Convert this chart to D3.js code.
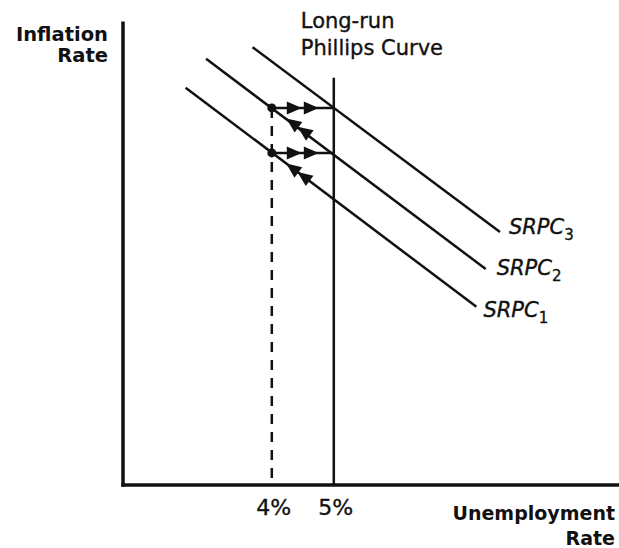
<!DOCTYPE html>
<html lang="en">
    <head>
        <title>Phillips Curve</title>
        <style>
            body { margin: 0; background: #fff; }
            svg { display: block; }
            text { font-family: "DejaVu Sans", sans-serif; fill: #111; }
            .heavy { stroke: #111; stroke-width: 0.35; }
        </style>
    </head>
    <body>
        <script src="https://d3js.org/d3.v7.min.js"></script>
        <svg id="chart"></svg>
        <script>
            const width = 619;
            const height = 548;

            // unemployment (%) on x, inflation on y
            const tickValues = [4, 5];
            const tickLabels = ["4%", "5%"];
            const naturalRate = 5;
            const actualRate = 4;
            const lrpcTop = 9.05;
            // inflation where each SRPC crosses the natural rate / sits at 4%
            const inflationLevels = [6.36, 7.38, 8.38];

            const srpcNames = ["SRPC", "SRPC", "SRPC"];
            const srpcSubs = ["1", "2", "3"];
            const srpcStart = [[2.61, 8.83], [2.94, 9.47], [3.69, 9.73]];
            const srpcEnd = [[7.30, 3.96], [7.45, 4.80], [7.68, 5.62]];

            const x = d3.scaleLinear().domain([1.6, 9.6]).range([123, 619]);
            const y = d3.scaleLinear().domain([0, 10.3]).range([485, 21.5]);

            const svg = d3.select("#chart")
                .attr("width", width)
                .attr("height", height)

            // axes
            svg.append("line")
                .attr("x1", x(1.6)).attr("x2", x(1.6))
                .attr("y1", y(10.3)).attr("y2", y(0) + 1.75)
                .attr("stroke", "#111").attr("stroke-width", 3.5)
            svg.append("line")
                .attr("x1", x(1.6) - 1.75).attr("x2", x(9.6))
                .attr("y1", y(0)).attr("y2", y(0))
                .attr("stroke", "#111").attr("stroke-width", 3.5)

            svg.selectAll(".tick-label")
                .data(tickValues)
                .enter()
                .append("text")
                .attr("class", "tick-label heavy")
                .attr("x", d => x(d) + 2)
                .attr("y", y(0) + 30)
                .attr("text-anchor", "middle")
                .attr("font-size", 22)
                .text((d, i) => tickLabels[i])

            // dashed line at 4%
            svg.append("line")
                .attr("x1", x(actualRate)).attr("x2", x(actualRate))
                .attr("y1", y(inflationLevels[2])).attr("y2", y(0))
                .attr("stroke", "#111").attr("stroke-width", 2.5)
                .attr("stroke-dasharray", "10,8")

            // long-run phillips curve
            svg.append("line")
                .attr("x1", x(naturalRate)).attr("x2", x(naturalRate))
                .attr("y1", y(lrpcTop)).attr("y2", y(0))
                .attr("stroke", "#111").attr("stroke-width", 2.5)

            // short-run curves
            svg.selectAll(".srpc")
                .data(srpcStart)
                .enter()
                .append("line")
                .attr("class", "srpc")
                .attr("x1", d => x(d[0]))
                .attr("y1", d => y(d[1]))
                .attr("x2", (d, i) => x(srpcEnd[i][0]))
                .attr("y2", (d, i) => y(srpcEnd[i][1]))
                .attr("stroke", "#111").attr("stroke-width", 2.5)

            const labelNudge = [[7, 10], [11, 6], [9, 2]];
            srpcNames.forEach((name, i) => {
                const t = svg.append("text")
                    .attr("class", "heavy")
                    .attr("x", x(srpcEnd[i][0]) + labelNudge[i][0])
                    .attr("y", y(srpcEnd[i][1]) + labelNudge[i][1])
                    .attr("font-size", 21)
                    .attr("font-style", "italic")
                t.append("tspan").text(name)
                t.append("tspan").text(srpcSubs[i])
                    .attr("font-size", 15)
                    .attr("font-style", "normal")
                    .attr("dy", 6)
            })

            // arrowhead with its tip at (tx,ty), pointing along (ux,uy)
            function arrowhead(tx, ty, ux, uy) {
                const bx = tx - ux * 15, by = ty - uy * 15;
                const px = -uy * 6.5, py = ux * 6.5;
                svg.append("path")
                    .attr("d", `M${tx},${ty}L${bx + px},${by + py}L${bx - px},${by - py}Z`)
                    .attr("fill", "#111")
            }

            // horizontal moves: 4% -> 5% at constant inflation
            inflationLevels.slice(1).forEach(lv => {
                svg.append("line")
                    .attr("x1", x(actualRate)).attr("x2", x(naturalRate))
                    .attr("y1", y(lv)).attr("y2", y(lv))
                    .attr("stroke", "#111").attr("stroke-width", 2.5)
                arrowhead(x(actualRate) + 30, y(lv), 1, 0)
                arrowhead(x(actualRate) + 47, y(lv), 1, 0)
            })

            // moves back up along each SRPC: 5% -> 4%
            inflationLevels.slice(1).forEach((lv, i) => {
                const x0 = x(actualRate), y0 = y(lv);
                const x1 = x(naturalRate), y1 = y(inflationLevels[i]);
                const len = Math.hypot(x1 - x0, y1 - y0);
                const ux = (x1 - x0) / len, uy = (y1 - y0) / len;
                // heads point back toward the dot
                arrowhead(x0 + ux * 18, y0 + uy * 18, -ux, -uy);
                arrowhead(x0 + ux * 32, y0 + uy * 32, -ux, -uy);
            })

            // dots
            svg.selectAll(".dot")
                .data(inflationLevels.slice(1))
                .enter()
                .append("circle")
                .attr("class", "dot")
                .attr("cx", x(actualRate))
                .attr("cy", d => y(d))
                .attr("r", 4.5)
                .attr("fill", "#111")

            // titles
            const yTitle = svg.append("text")
                .attr("text-anchor", "end")
                .attr("font-size", 19.5)
                .attr("font-weight", "bold")
            yTitle.append("tspan").attr("x", 108).attr("y", 41).text("Inflation")
            yTitle.append("tspan").attr("x", 108).attr("y", 62).text("Rate")

            const xTitle = svg.append("text")
                .attr("text-anchor", "end")
                .attr("font-size", 19)
                .attr("font-weight", "bold")
            xTitle.append("tspan").attr("x", 615).attr("y", 520).text("Unemployment")
            xTitle.append("tspan").attr("x", 615).attr("y", 545).text("Rate")

            const lrTitle = svg.append("text")
                .attr("class", "heavy")
                .attr("font-size", 21)
            lrTitle.append("tspan").attr("x", x(naturalRate) - 33).attr("y", 28).text("Long-run")
            lrTitle.append("tspan").attr("x", x(naturalRate) - 33).attr("y", 55).text("Phillips Curve")
        </script>
    </body>
</html>
